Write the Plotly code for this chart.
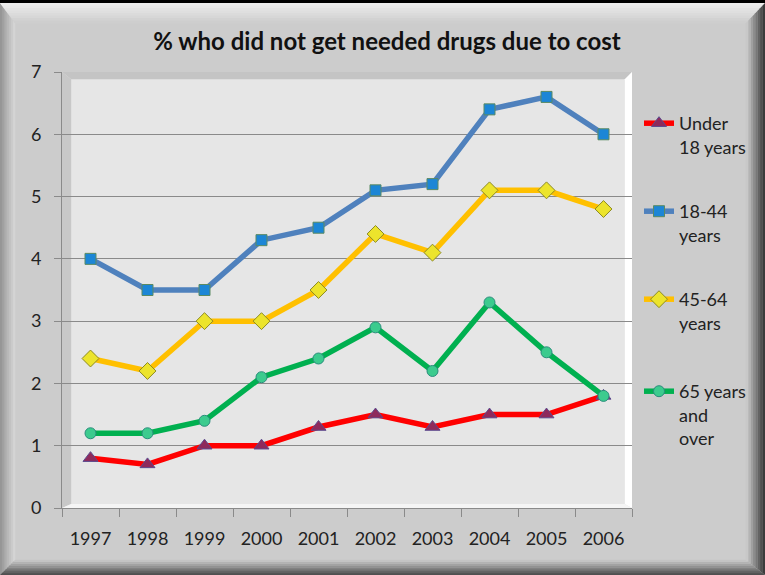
import plotly.graph_objects as go

# Survey years and share (%) of people who went without needed drugs due to cost
years = ["1997", "1998", "1999", "2000", "2001", "2002", "2003", "2004", "2005", "2006"]
under_18 = [0.8, 0.7, 1.0, 1.0, 1.3, 1.5, 1.3, 1.5, 1.5, 1.8]
age_18_44 = [4.0, 3.5, 3.5, 4.3, 4.5, 5.1, 5.2, 6.4, 6.6, 6.0]
age_45_64 = [2.4, 2.2, 3.0, 3.0, 3.5, 4.4, 4.1, 5.1, 5.1, 4.8]
age_65_plus = [1.2, 1.2, 1.4, 2.1, 2.4, 2.9, 2.2, 3.3, 2.5, 1.8]
series_names = ["Under<br>18 years", "18-44<br>years", "45-64<br>years", "65 years<br>and<br>over"]
y_ticks = [0, 1, 2, 3, 4, 5, 6, 7]

W, H = 765, 575
L, T, R, B = 62, 72, 632, 508          # plot area in pixels
PW, PH = R - L, B - T


def px(x):
    return (x - L) / PW


def py(y):
    return (B - y) / PH


def band_shapes(rect, widths, colors, side, ref):
    """Graded mitred bevel band along one side of a rectangle (pixel units)."""
    x0, y0, x1, y1 = rect
    wl, wt, wr, wb = widths
    n = len(colors)
    shapes = []
    for i, c in enumerate(colors):
        f0, f1 = i / n, (i + 1) / n + 0.02
        o = (x0 + f0 * wl, y0 + f0 * wt, x1 - f0 * wr, y1 - f0 * wb)
        n_ = (x0 + f1 * wl, y0 + f1 * wt, x1 - f1 * wr, y1 - f1 * wb)
        if side == "top":
            pts = [(o[0], o[1]), (o[2], o[1]), (n_[2], n_[1]), (n_[0], n_[1])]
        elif side == "bottom":
            pts = [(o[0], o[3]), (o[2], o[3]), (n_[2], n_[3]), (n_[0], n_[3])]
        elif side == "left":
            pts = [(o[0], o[1]), (n_[0], n_[1]), (n_[0], n_[3]), (o[0], o[3])]
        else:
            pts = [(o[2], o[1]), (n_[2], n_[1]), (n_[2], n_[3]), (o[2], o[3])]
        path = "M " + " L ".join(f"{px(a):.5f},{py(b):.5f}" for a, b in pts) + " Z"
        shapes.append(dict(type="path", path=path, xref=ref[0], yref=ref[1],
                           fillcolor=c, line=dict(width=0), layer="below"))
    return shapes


def grey(v):
    return f"rgb({v},{v},{v})"


def ramp(a, b, n):
    return [grey(round(a + (b - a) * i / (n - 1))) for i in range(n)]


shapes = []
# outer frame bevel
frame = (0, 3, W, H)
fw = (15, 20, 19, 15)
shapes += band_shapes(frame, fw, ramp(150, 212, 8), "left", ("paper", "paper"))
shapes += band_shapes(frame, fw, ramp(236, 206, 8), "top", ("paper", "paper"))
shapes += band_shapes(frame, fw, ramp(60, 200, 8), "right", ("paper", "paper"))
shapes += band_shapes(frame, fw, ramp(80, 196, 8), "bottom", ("paper", "paper"))
shapes.append(dict(type="rect", xref="paper", yref="paper", x0=px(0), x1=px(W),
                   y0=py(0), y1=py(3), fillcolor="black", line=dict(width=0), layer="below"))

# plot-area bevel (walls of the chart box)
box = (L, T, R, B)
bw = (9, 7, 7, 4)
dom = ("x domain", "y domain")
shapes += band_shapes(box, bw, [grey(200)], "left", dom)
shapes += band_shapes(box, bw, [grey(196)], "top", dom)
shapes += band_shapes(box, bw, [grey(255)], "right", dom)
shapes += band_shapes(box, bw, [grey(245)], "bottom", dom)

styles = [
    dict(line="#ff0000", symbol="triangle-up", fill="#8e2a5c", edge="#5b4a8e", size=13),
    dict(line="#4f81bd", symbol="square", fill="#1c86d6", edge="#5a8a62", size=11),
    dict(line="#ffc000", symbol="diamond", fill="#ece42c", edge="#8c8a22", size=13),
    dict(line="#00b050", symbol="circle", fill="#3ccb8e", edge="#2a8c7c", size=11),
]
data = [under_18, age_18_44, age_45_64, age_65_plus]
legend_ids = ["legend", "legend2", "legend3", "legend4"]
legend_tops = [105, 193, 281, 373]

fig = go.Figure()
for vals, name, st, lid in zip(data, series_names, styles, legend_ids):
    fig.add_trace(go.Scatter(
        x=years, y=vals, name=name, mode="lines+markers", legend=lid,
        showlegend=True,
        line=dict(color=st["line"], width=5.5),
        marker=dict(symbol=st["symbol"], size=st["size"], color=st["fill"],
                    line=dict(color=st["edge"], width=1)),
    ))

legend_font = dict(family="Lato, sans-serif", size=18, color="#222222")
legend_layout = {}
for lid, top in zip(legend_ids, legend_tops):
    legend_layout[lid] = dict(x=px(639), y=py(top), xanchor="left", yanchor="top",
                              bgcolor="rgba(0,0,0,0)", font=legend_font, valign="top",
                              itemwidth=30, tracegroupgap=0)

tick_font = dict(family="Lato, sans-serif", size=18, color="#222222")

fig.update_layout(
    width=W, height=H,
    margin=dict(l=L, r=W - R, t=T, b=H - B),
    paper_bgcolor="#cccccc",
    plot_bgcolor="#e6e6e6",
    showlegend=True,
    title=dict(text="<b>% who did not get needed drugs due to cost</b>",
               x=387 / W, xanchor="center", y=1 - 42 / H, yanchor="middle",
               font=dict(family="Lato, sans-serif", size=24, color="#111111")),
    xaxis=dict(type="category", range=[-0.5, 9.5], tickson="boundaries",
               ticks="outside", ticklen=8, tickcolor="#8a8a8a", showgrid=False,
               showline=True, linecolor="#8a8a8a", linewidth=1, ticklabelstandoff=14,
               tickfont=tick_font),
    yaxis=dict(range=[0, 7], tickvals=y_ticks, ticks="outside", ticklen=7,
               tickcolor="#8a8a8a", showgrid=True, gridcolor="#8a8a8a", gridwidth=1,
               showline=True, linecolor="#8a8a8a", linewidth=1, zeroline=False,
               ticklabelstandoff=9, tickfont=tick_font),
    shapes=shapes,
    **legend_layout,
)

fig.write_html("out.html")
